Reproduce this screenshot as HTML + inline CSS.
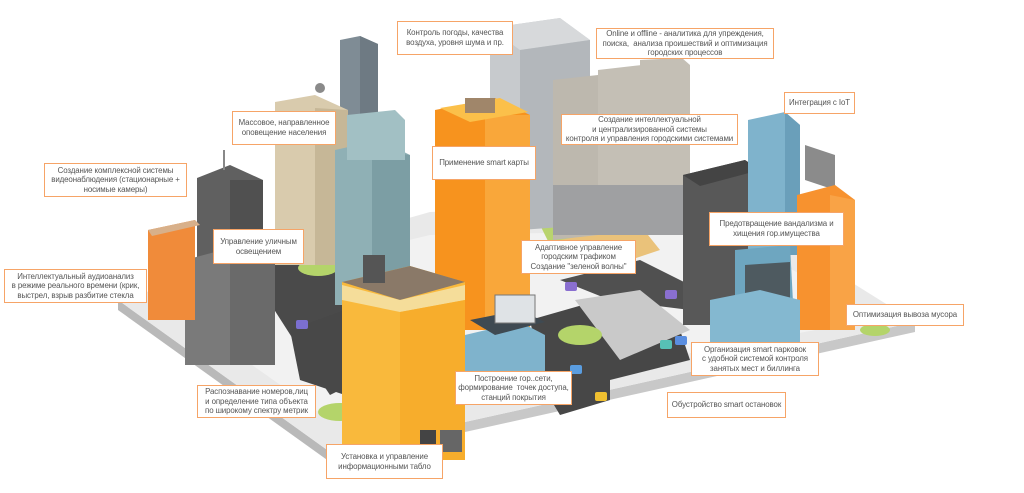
<!DOCTYPE html>
<html><head><meta charset="utf-8"><style>
html,body{margin:0;padding:0;background:#fff;width:1024px;height:493px;overflow:hidden;position:relative;font-family:"Liberation Sans",sans-serif}
svg{position:absolute;left:0;top:0}
.b{position:absolute;background:#fff;border:1.5px solid #f6a467;box-sizing:border-box;color:#555;font-size:7.9px;line-height:9.6px;text-align:center;display:flex;align-items:center;justify-content:center;white-space:nowrap;letter-spacing:-0.1px}
</style></head><body>
<svg width="1024" height="493" viewBox="0 0 1024 493">
<polygon points="118,300 330,452 330,462 118,310" fill="#b9b9b9"/>
<polygon points="330,452 915,322 915,332 330,462" fill="#c8c8c8"/>
<polygon points="118,300 430,212 720,200 915,322 330,452" fill="#e9e9e9"/>
<polygon points="160,300 330,420 880,318 720,230 430,235" fill="#f2f2f2"/>
<polygon points="265,255 330,240 345,300 360,380 330,395 300,350 268,300" fill="#4a4a4a"/>
<polygon points="290,330 345,310 345,395 300,380" fill="#484848"/>
<polygon points="530,320 600,300 680,330 690,360 610,380 610,400 560,415 545,390" fill="#474747"/>
<polygon points="560,280 640,260 700,290 690,310 610,300" fill="#505050"/>
<polygon points="575,300 640,290 690,330 620,360" fill="#c9c9c9"/>
<ellipse cx="580" cy="335" rx="22" ry="10" fill="#b4d46a"/>
<ellipse cx="318" cy="268" rx="20" ry="8" fill="#b4d46a"/>
<ellipse cx="340" cy="412" rx="22" ry="9" fill="#b4d46a"/>
<ellipse cx="875" cy="330" rx="15" ry="6" fill="#b4d46a"/>
<polygon points="540,225 620,225 640,255 560,265" fill="#b9d46e"/>
<polygon points="560,240 640,225 660,250 600,270" fill="#eac27a"/>
<polygon points="490,28 560,18 590,40 590,225 490,230" fill="#c7cacd"/>
<polygon points="490,28 560,18 590,40 520,50" fill="#d7d9db"/>
<polygon points="520,50 590,40 590,225 520,230" fill="#b3b7bb"/>
<polygon points="553,80 598,75 598,235 553,240" fill="#bdb8ae"/>
<polygon points="598,75 608,82 608,235 598,235" fill="#a9a49a"/>
<polygon points="598,70 642,65 642,228 598,232" fill="#c4bfb5"/>
<polygon points="642,65 652,72 652,228 642,228" fill="#a9a49a"/>
<polygon points="640,60 682,58 690,65 690,220 640,225" fill="#c4bfb5"/>
<rect x="553" y="185" width="140" height="50" fill="#9fa0a2"/>
<polygon points="340,40 360,36 378,44 378,120 340,120" fill="#7f8c95"/>
<polygon points="360,36 378,44 378,120 360,120" fill="#6e7a83"/>
<polygon points="275,102 315,95 348,110 348,265 275,265" fill="#d9cbad"/>
<polygon points="315,108 348,110 348,265 315,265" fill="#c6b797"/>
<circle cx="320" cy="88" r="5" fill="#8a8a8a"/>
<polygon points="335,150 380,140 410,155 410,305 335,305" fill="#8fb0b5"/>
<polygon points="372,150 410,155 410,305 372,305" fill="#7c9ea4"/>
<polygon points="347,115 395,110 405,120 405,160 347,160" fill="#a2c0c4"/>
<polygon points="197,178 230,165 263,180 263,270 197,270" fill="#606060"/>
<polygon points="230,180 263,180 263,270 230,270" fill="#505050"/>
<polygon points="185,260 230,248 275,262 275,365 185,365" fill="#7a7a7a"/>
<polygon points="230,262 275,262 275,365 230,365" fill="#6a6a6a"/>
<line x1="224" y1="150" x2="224" y2="170" stroke="#888" stroke-width="2"/>
<polygon points="148,230 195,220 195,320 148,320" fill="#f08b3a"/>
<polygon points="148,230 195,220 200,225 152,236" fill="#d8b08a"/>
<polygon points="435,110 495,98 530,115 530,330 435,330" fill="#f7931e"/>
<polygon points="485,115 530,115 530,330 485,330" fill="#f9a73a"/>
<polygon points="440,108 500,98 528,112 470,122" fill="#fbc04a"/>
<rect x="465" y="98" width="30" height="15" fill="#a0866a"/>
<polygon points="683,175 745,160 760,170 760,325 683,325" fill="#585858"/>
<polygon points="683,175 745,160 760,170 700,186" fill="#444"/>
<polygon points="748,120 785,112 800,125 800,255 748,255" fill="#7fb3cc"/>
<polygon points="785,112 800,125 800,255 785,255" fill="#6a9fba"/>
<polygon points="805,145 835,155 835,190 805,180" fill="#8b8b8b"/>
<polygon points="797,195 835,185 855,200 855,330 797,330" fill="#f7922f"/>
<polygon points="830,195 855,200 855,330 830,330" fill="#f9a346"/>
<polygon points="735,250 790,245 795,340 735,340" fill="#6ea6c0"/>
<polygon points="745,265 790,262 790,305 745,308" fill="#4e5a60"/>
<polygon points="710,300 760,290 800,300 800,345 710,345" fill="#84b8d0"/>
<polygon points="342,282 410,266 465,282 465,460 342,460" fill="#f9b93c"/>
<polygon points="342,282 410,266 465,282 400,300" fill="#8a7968"/>
<polygon points="342,285 400,300 465,285 465,300 400,312 342,300" fill="#f5dd9a"/>
<polygon points="400,312 465,300 465,460 400,460" fill="#f7ad2c"/>
<rect x="363" y="255" width="22" height="28" fill="#555"/>
<rect x="440" y="430" width="22" height="22" fill="#666"/>
<rect x="420" y="430" width="16" height="22" fill="#444"/>
<polygon points="465,335 520,322 545,335 545,398 465,398" fill="#7fb3cc"/>
<polygon points="470,320 520,310 545,322 495,335" fill="#3f4a52"/>
<rect x="495" y="295" width="40" height="28" fill="#dfe3e6" stroke="#777"/>
<rect x="296" y="320" width="12" height="9" rx="2" fill="#7b6fd0"/>
<rect x="595" y="392" width="12" height="9" rx="2" fill="#f0c030"/>
<rect x="570" y="365" width="12" height="9" rx="2" fill="#5a9de0"/>
<rect x="660" y="340" width="12" height="9" rx="2" fill="#57c0b5"/>
<rect x="675" y="336" width="12" height="9" rx="2" fill="#5a8ee0"/>
<rect x="665" y="290" width="12" height="9" rx="2" fill="#8a6fd0"/>
<rect x="565" y="282" width="12" height="9" rx="2" fill="#8a6fd0"/>
</svg>
<div class="b" style="left:397px;top:21px;width:116px;height:34px">Контроль погоды, качества<br>воздуха, уровня шума и пр.</div>
<div class="b" style="left:596px;top:28px;width:178px;height:31px">Online и offline - аналитика для упреждения,<br>поиска,&nbsp; анализа проишествий и оптимизация<br>городских процессов</div>
<div class="b" style="left:784px;top:92px;width:71px;height:22px">Интеграция с IoT</div>
<div class="b" style="left:232px;top:111px;width:104px;height:34px">Массовое, направленное<br>оповещение населения</div>
<div class="b" style="left:561px;top:114px;width:177px;height:31px">Создание интеллектуальной<br>и централизированной системы<br>контроля и управления городскими системами</div>
<div class="b" style="left:432px;top:146px;width:104px;height:34px">Применение smart карты</div>
<div class="b" style="left:44px;top:163px;width:143px;height:34px">Создание комплексной системы<br>видеонаблюдения (стационарные +<br>носимые камеры)</div>
<div class="b" style="left:709px;top:212px;width:135px;height:34px">Предотвращение вандализма и<br>хищения гор.имущества</div>
<div class="b" style="left:213px;top:229px;width:91px;height:35px">Управление уличным<br>освещением</div>
<div class="b" style="left:521px;top:240px;width:115px;height:34px">Адаптивное управление<br>городским трафиком<br>Создание "зеленой волны"</div>
<div class="b" style="left:4px;top:269px;width:143px;height:34px">Интеллектуальный аудиоанализ<br>в режиме реального времени (крик,<br>выстрел, взрыв разбитие стекла</div>
<div class="b" style="left:846px;top:304px;width:118px;height:22px">Оптимизация вывоза мусора</div>
<div class="b" style="left:691px;top:342px;width:128px;height:34px">Организация smart парковок<br>с удобной системой контроля<br>занятых мест и биллинга</div>
<div class="b" style="left:455px;top:371px;width:117px;height:34px">Построение гор..сети,<br>формирование&nbsp; точек доступа,<br>станций покрытия</div>
<div class="b" style="left:197px;top:385px;width:119px;height:33px">Распознавание номеров,лиц<br>и определение типа объекта<br>по широкому спектру метрик</div>
<div class="b" style="left:667px;top:392px;width:119px;height:26px">Обустройство smart остановок</div>
<div class="b" style="left:326px;top:444px;width:117px;height:35px">Установка и управление<br>информационными табло</div>
</body></html>
